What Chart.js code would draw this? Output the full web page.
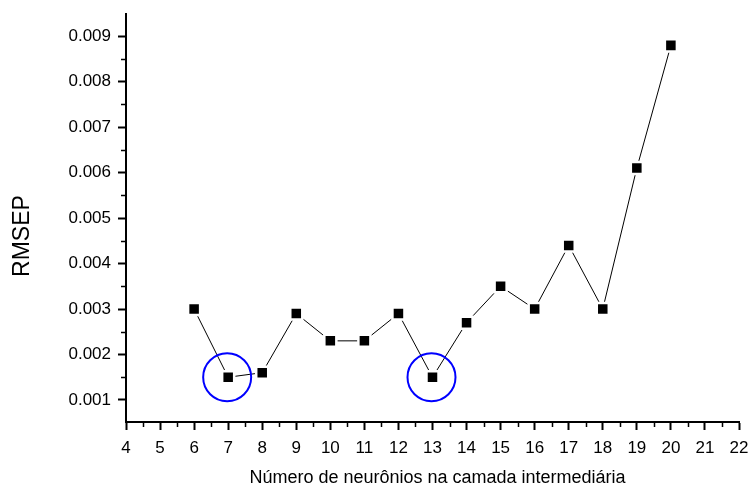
<!DOCTYPE html>
<html>
<head>
<meta charset="utf-8">
<script src="https://cdn.jsdelivr.net/npm/chart.js@4"></script>
<style>
  html, body { margin: 0; padding: 0; background: #fff; }
</style>
</head>
<body>
<canvas id="rmsepChart" width="752" height="486"></canvas>
<script>
// values
const neurons = [6, 7, 8, 9, 10, 11, 12, 13, 14, 15, 16, 17, 18, 19, 20];
const rmsep = [0.0030, 0.0015, 0.0016, 0.0029, 0.0023, 0.0023, 0.0029, 0.0015,
               0.0027, 0.0035, 0.0030, 0.0044, 0.0030, 0.0061, 0.0088];
const xTicks = [4, 5, 6, 7, 8, 9, 10, 11, 12, 13, 14, 15, 16, 17, 18, 19, 20, 21, 22];
const yTicks = [0.001, 0.002, 0.003, 0.004, 0.005, 0.006, 0.007, 0.008, 0.009];
const highlighted = [7, 13];
const xTitle = 'Número de neurônios na camada intermediária';
const yTitle = 'RMSEP';

const FONT = "'Liberation Sans', Arial, sans-serif";

// minor ticks, blue circles around the two minima, axis titles
const extras = {
  id: 'extras',
  afterDraw(chart) {
    const { ctx, scales: { x, y } } = chart;
    ctx.save();
    ctx.strokeStyle = '#000';
    ctx.lineWidth = 1.5;
    ctx.beginPath();
    for (let i = 0; i < xTicks.length - 1; i++) {
      const px = Math.round(x.getPixelForValue((xTicks[i] + xTicks[i + 1]) / 2)) + 0.5;
      ctx.moveTo(px, x.top);
      ctx.lineTo(px, x.top + 5);
    }
    const yMinor = [yTicks[0] - 0.0005, ...yTicks.map(v => v + 0.0005)];
    yMinor.forEach(v => {
      if (v < y.min || v > y.max) return;
      const py = Math.round(y.getPixelForValue(v)) + 0.5;
      ctx.moveTo(y.right, py);
      ctx.lineTo(y.right - 5, py);
    });
    ctx.stroke();

    ctx.strokeStyle = '#0000ff';
    ctx.lineWidth = 2;
    highlighted.forEach(n => {
      const i = neurons.indexOf(n);
      ctx.beginPath();
      ctx.arc(x.getPixelForValue(n) - 1, y.getPixelForValue(rmsep[i]), 24, 0, Math.PI * 2);
      ctx.stroke();
    });

    ctx.fillStyle = '#000';
    ctx.textAlign = 'center';
    ctx.textBaseline = 'alphabetic';
    ctx.font = `18px ${FONT}`;
    ctx.fillText(xTitle, (x.left + x.right) / 2 + 5, 483);
    ctx.translate(29, 236);
    ctx.rotate(-Math.PI / 2);
    ctx.font = `23px ${FONT}`;
    ctx.fillText(yTitle, 0, 0);
    ctx.restore();
  }
};

new Chart(document.getElementById('rmsepChart'), {
  type: 'line',
  data: {
    datasets: [{
      data: neurons.map((n, i) => ({ x: n, y: rmsep[i] })),
      borderColor: '#000',
      borderWidth: 1,
      pointStyle: 'rect',
      pointRadius: 8.5,
      pointBackgroundColor: '#000',
      pointBorderColor: '#fff',
      pointBorderWidth: 2.5,
      tension: 0
    }]
  },
  options: {
    responsive: false,
    animation: false,
    events: [],
    layout: { padding: { top: 14, right: 13, left: 0, bottom: 0 } },
    plugins: {
      legend: { display: false },
      tooltip: { enabled: false }
    },
    scales: {
      x: {
        type: 'linear',
        min: 4,
        max: 22,
        afterBuildTicks: s => { s.ticks = xTicks.map(v => ({ value: v })); },
        afterFit: s => { s.height = 64; s.paddingLeft = 0; s.paddingRight = 0; },
        border: { color: '#000', width: 2 },
        grid: { drawOnChartArea: false, tickLength: 8, tickWidth: 2, tickColor: '#000' },
        ticks: {
          color: '#000',
          padding: 8,
          maxRotation: 0,
          font: { family: FONT, size: 17 },
          callback: v => String(v)
        }
      },
      y: {
        type: 'linear',
        min: 0.000515,
        max: 0.00949,
        afterBuildTicks: s => { s.ticks = yTicks.map(v => ({ value: v })); },
        afterFit: s => { s.width = 126; s.paddingTop = 0; s.paddingBottom = 0; },
        border: { color: '#000', width: 2 },
        grid: { drawOnChartArea: false, tickLength: 8, tickWidth: 2, tickColor: '#000' },
        ticks: {
          color: '#000',
          padding: 7,
          font: { family: FONT, size: 17 },
          callback: v => v.toFixed(3)
        }
      }
    }
  },
  plugins: [extras]
});
</script>
</body>
</html>
